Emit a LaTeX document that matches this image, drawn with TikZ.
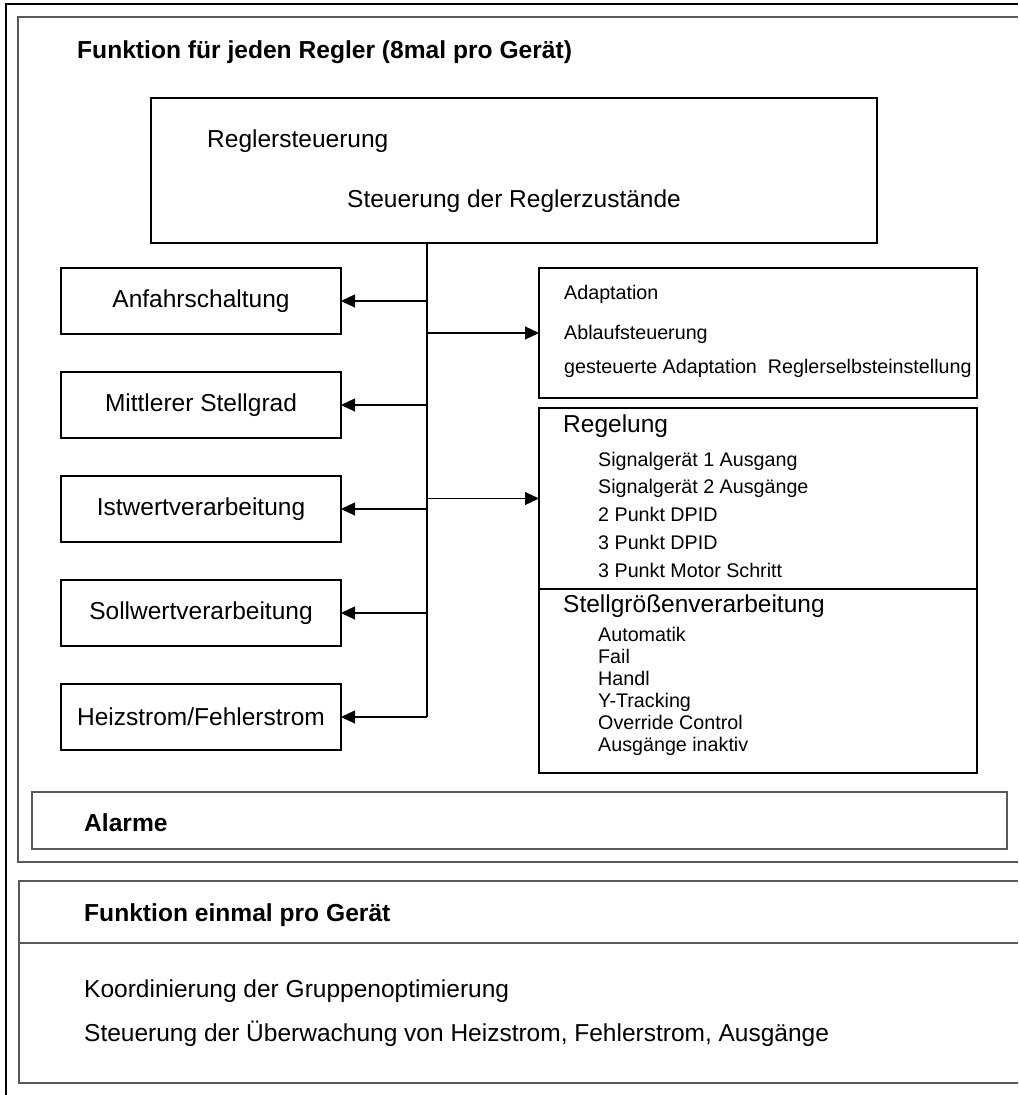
\documentclass[tikz,border=0pt]{standalone}
\usepackage{fontspec}
\setmainfont{Liberation Sans}
\usetikzlibrary{arrows.meta, positioning}

\begin{document}
\begin{tikzpicture}[
  x=1pt, y=-1pt,
  node distance=38pt,
  outerline/.style={draw=black, line width=2.6pt},
  frame/.style={draw=black!65, line width=1.3pt},
  box/.style={rectangle, draw=black, line width=2pt, outer sep=0pt, inner sep=0pt},
  lbox/.style={box, minimum width=280pt, minimum height=66pt, font=\fontsize{24.5}{28}\selectfont},
  txt/.style={anchor=base west, inner sep=0pt, font=\fontsize{24.5}{28}\selectfont},
  btxt/.style={txt, font=\bfseries\fontsize{24.6}{28}\selectfont},
  stxt/.style={txt, font=\fontsize{19.7}{23}\selectfont},
  conn/.style={line width=1.2pt},
  arrow/.style={conn, -{Triangle[length=14pt, width=13pt]}}
]
\useasboundingbox (0,0) rectangle (1018,1095);

% frames
\draw[outerline] (6,1095) -- (6,4) -- (1018,4);
\draw[frame] (1018,17) -- (18,17) -- (18,862) -- (1018,862);
\draw[frame] (32,792) rectangle (1007,849);
\draw[frame] (1018,881) -- (19,881) -- (19,1083) -- (1018,1083);
\draw[frame] (19,943) -- (1018,943);

\node[btxt] (title) at (77,58) {Funktion für jeden Regler (8mal pro Gerät)};

% controller control
\node[box, minimum width=726pt, minimum height=145pt] (rs) at (514,170.5) {};
\node[txt] (rsname) at (207,147) {Reglersteuerung};
\node[txt] (rsdesc) at (347,207) {Steuerung der Reglerzustände};

% left column
\node[lbox] (anf) at (201,301) {Anfahrschaltung};
\node[lbox, below=of anf] (mit) {Mittlerer Stellgrad};
\node[lbox, below=of mit] (ist) {Istwertverarbeitung};
\node[lbox, below=of ist] (soll) {Sollwertverarbeitung};
\node[lbox, below=of soll] (heiz) {Heizstrom/Fehlerstrom};

% right column
\node[box, minimum width=438pt, minimum height=130pt] (adapt) at (758,333) {};
\node[stxt] (ad1) at (564,299) {Adaptation};
\node[stxt] (ad2) at (564,339) {Ablaufsteuerung};
\node[stxt] (ad3) at (564,373) {gesteuerte Adaptation\ \ Reglerselbsteinstellung};

\node[box, minimum width=438pt, minimum height=181pt] (regel) at (758,498.5) {};
\node[box, minimum width=438pt, minimum height=184pt, below=0pt of regel] (stell) {};
\node[txt] (rg) at (563,432) {Regelung};
\foreach \t [count=\i] in {Signalgerät 1 Ausgang, Signalgerät 2 Ausgänge, 2 Punkt DPID, 3 Punkt DPID, 3 Punkt Motor Schritt}
  \node[stxt] (rg\i) at ({598},{466+27.9*(\i-1)}) {\t};
\node[txt] (sg) at (563,612) {Stellgrößenverarbeitung};
\foreach \t [count=\i] in {Automatik, Fail, Handl, Y-Tracking, Override Control, Ausgänge inaktiv}
  \node[stxt] (sg\i) at ({598},{641+22*(\i-1)}) {\t};

% connectors
\coordinate (tt) at (427,243);
\draw[conn] (tt) -- (tt |- heiz.east);
\foreach \n in {anf, mit, ist, soll, heiz}
  \draw[arrow] (tt |- \n.east) -- (\n.east);
\draw[arrow] (tt |- adapt.west) -- (adapt.west);
\draw[arrow] (tt |- regel.west) -- (regel.west);

% alarms and device functions
\node[btxt] (alarm) at (84,831) {Alarme};
\node[btxt] (once) at (84,921) {Funktion einmal pro Gerät};
\node[txt] (koord) at (84,997) {Koordinierung der Gruppenoptimierung};
\node[txt] (ueberw) at (84,1041) {Steuerung der Überwachung von Heizstrom, Fehlerstrom, Ausgänge};

\end{tikzpicture}
\end{document}
